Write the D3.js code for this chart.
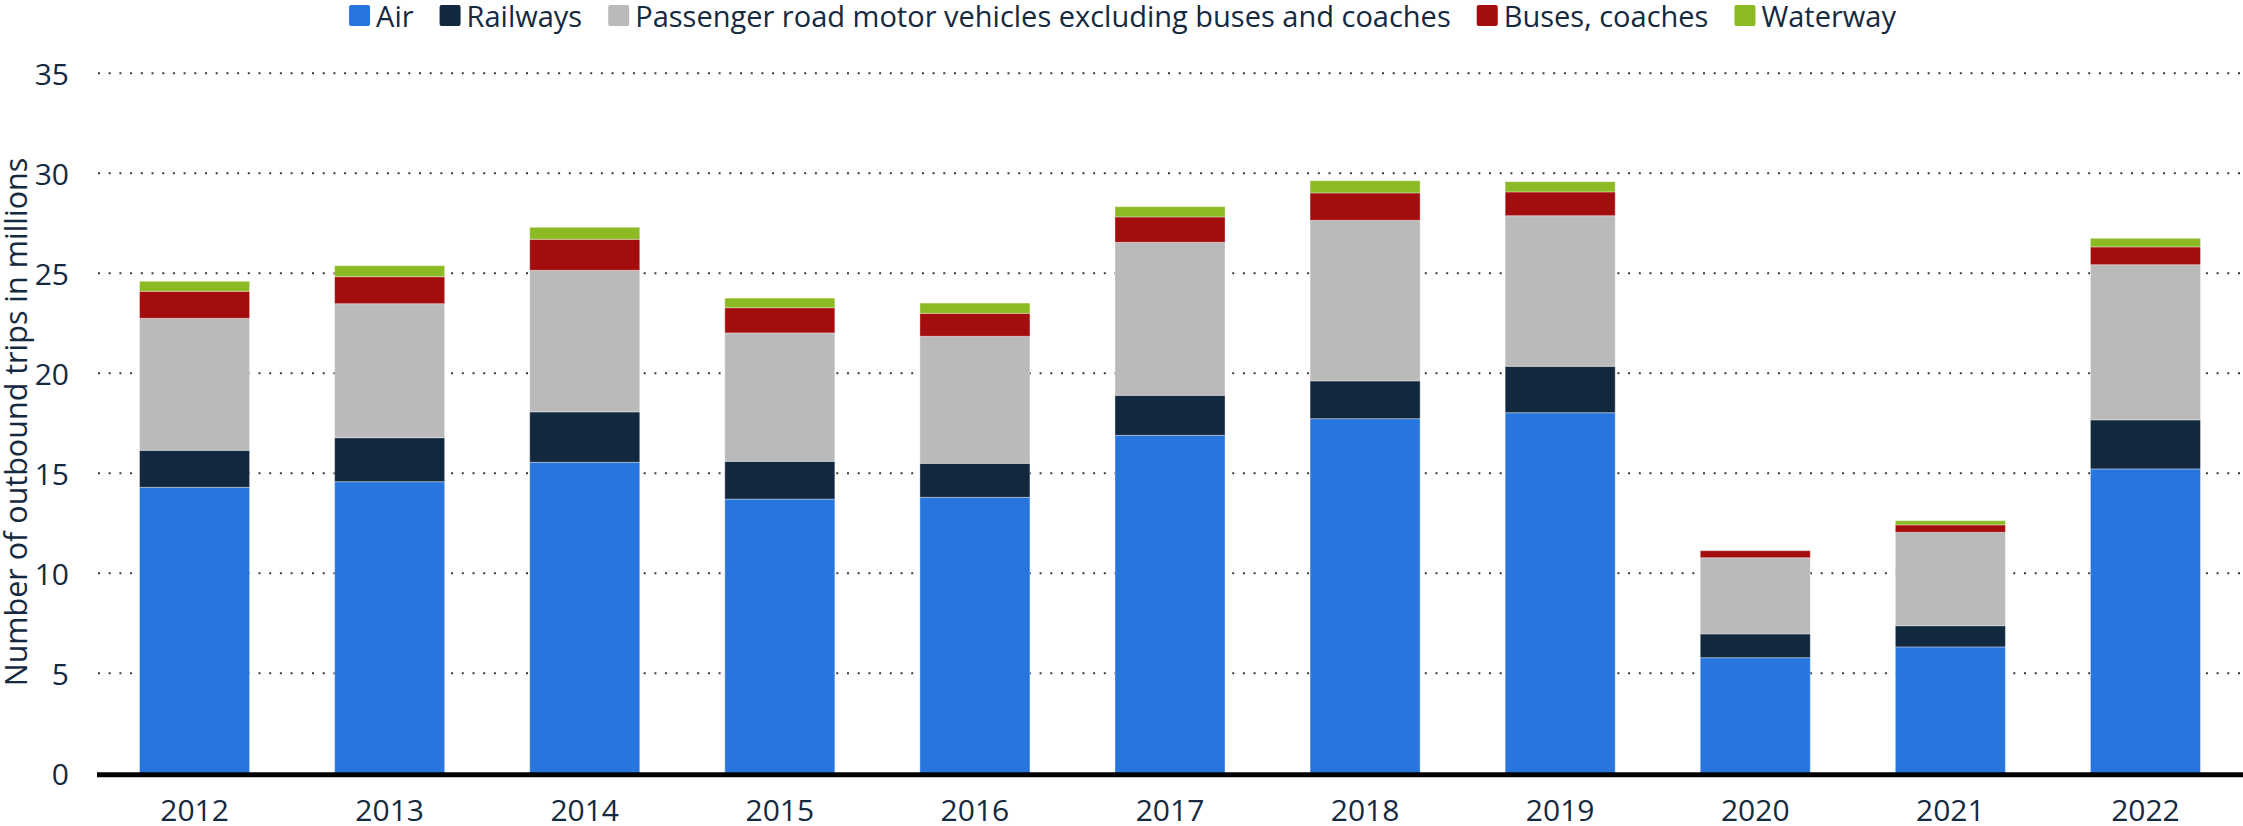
<!DOCTYPE html>
<html>
<head>
<meta charset="utf-8">
<script src="https://cdn.jsdelivr.net/npm/d3@7"></script>
<style>
  html, body { margin: 0; padding: 0; background: #fff; }
  svg { display: block; font-family: 'Open Sans', 'Noto Sans', sans-serif; }
</style>
</head>
<body>
<div id="chart"></div>
<script>
const years = ['2012', '2013', '2014', '2015', '2016', '2017', '2018', '2019', '2020', '2021', '2022'];
const air = [14.3, 14.58, 15.55, 13.71, 13.8, 16.9, 17.73, 18.03, 5.78, 6.32, 15.22];
const railways = [1.85, 2.2, 2.52, 1.89, 1.7, 2.0, 1.89, 2.32, 1.19, 1.06, 2.45];
const roadVehicles = [6.6, 6.7, 7.08, 6.42, 6.35, 7.65, 8.03, 7.53, 3.81, 4.67, 7.76];
const buses = [1.35, 1.35, 1.55, 1.26, 1.15, 1.27, 1.37, 1.19, 0.35, 0.37, 0.89];
const waterway = [0.5, 0.55, 0.6, 0.48, 0.51, 0.51, 0.61, 0.51, 0, 0.21, 0.43];
const yTicks = [0, 5, 10, 15, 20, 25, 30, 35];

const seriesNames = [
  'Air',
  'Railways',
  'Passenger road motor vehicles excluding buses and coaches',
  'Buses, coaches',
  'Waterway',
];
const seriesColors = ['#2876dd', '#12283f', '#bababa', '#a30d0d', '#8bba25'];
const seriesValues = [air, railways, roadVehicles, buses, waterway];

const width = 2243;
const height = 826;
const textColor = '#15293f';

const rows = years.map((year, i) => {
  const row = { year };
  seriesNames.forEach((name, s) => {
    row[name] = seriesValues[s][i];
  });
  return row;
});

const svg = d3
  .select('#chart')
  .append('svg')
  .attr('width', width)
  .attr('height', height);

const x = d3
  .scaleBand()
  .domain(years)
  .range([97, width])
  .paddingInner(0.436)
  .paddingOuter(0.218);

const y = d3.scaleLinear().domain([0, 35]).range([773.3, 73.3]);

// Dotted gridlines
svg
  .append('g')
  .selectAll('line')
  .data(yTicks.filter((t) => t > 0))
  .enter()
  .append('line')
  .attr('x1', 98)
  .attr('x2', width)
  .attr('y1', (d) => y(d))
  .attr('y2', (d) => y(d))
  .attr('stroke', '#3a3a3a')
  .attr('stroke-width', 2)
  .attr('stroke-dasharray', '2 8.7');

// Stacked bars
const stack = d3.stack().keys(seriesNames);
const layers = stack(rows);

svg
  .append('g')
  .selectAll('g')
  .data(layers)
  .enter()
  .append('g')
  .attr('fill', (d, i) => seriesColors[i])
  .selectAll('rect')
  .data((d) => d)
  .enter()
  .append('rect')
  .attr('x', (d) => x(d.data.year))
  .attr('width', x.bandwidth())
  .attr('y', (d) => y(d[1]))
  .attr('height', (d) => Math.max(0, y(d[0]) - y(d[1])))
  .attr('stroke', 'rgba(255,255,255,0.35)')
  .attr('stroke-width', 1);

// Y axis labels
const yAxis = d3.axisLeft(y).tickValues(yTicks).tickSize(0).tickPadding(0);
svg
  .append('g')
  .attr('transform', 'translate(69,0)')
  .call(yAxis)
  .call((g) => g.select('.domain').remove())
  .selectAll('text')
  .attr('fill', textColor)
  .attr('font-size', 30)
  .attr('font-family', "'Open Sans', 'Noto Sans', sans-serif")
  .attr('dy', '0.36em');

// Baseline
svg
  .append('line')
  .attr('x1', 97)
  .attr('x2', width)
  .attr('y1', y(0) + 1.5)
  .attr('y2', y(0) + 1.5)
  .attr('stroke', '#000')
  .attr('stroke-width', 5);

// X axis labels
const xAxis = d3.axisBottom(x).tickSize(0).tickPadding(0);
svg
  .append('g')
  .attr('transform', 'translate(0,821)')
  .call(xAxis)
  .call((g) => g.select('.domain').remove())
  .selectAll('text')
  .attr('fill', textColor)
  .attr('font-size', 30)
  .attr('font-family', "'Open Sans', 'Noto Sans', sans-serif")
  .attr('dy', 0);

// Axis title
svg
  .append('text')
  .attr('transform', `translate(27,${422}) rotate(-90)`)
  .attr('text-anchor', 'middle')
  .attr('fill', textColor)
  .attr('font-size', 30.5)
  .text('Number of outbound trips in millions');

// Legend, centered across the top
const legend = svg.append('g');
const items = legend
  .selectAll('g')
  .data(seriesNames)
  .enter()
  .append('g');

items
  .append('rect')
  .attr('width', 21)
  .attr('height', 21)
  .attr('y', 5)
  .attr('rx', 2)
  .attr('fill', (d, i) => seriesColors[i]);

items
  .append('text')
  .attr('x', 27)
  .attr('y', 26.5)
  .attr('fill', textColor)
  .attr('font-size', 29)
  .text((d) => d);

let offset = 0;
items.each(function place() {
  const item = d3.select(this);
  item.attr('transform', `translate(${offset},0)`);
  offset += 27 + item.select('text').node().getComputedTextLength() + 26;
});
const legendWidth = offset - 26;
legend.attr('transform', `translate(${(width - legendWidth) / 2 + 1},0)`);
</script>
</body>
</html>
